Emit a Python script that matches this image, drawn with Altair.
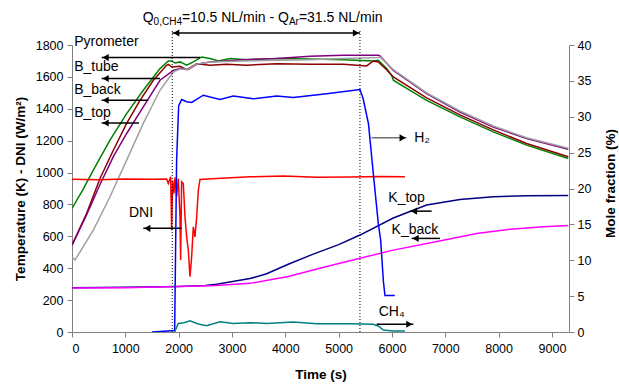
import altair as alt
import pandas as pd

FONT = "Liberation Sans"

# ---------------- data ----------------
pyro_t = [0, 200, 400, 712, 1025, 1337, 1650, 1806, 1875, 1931, 2025, 2150, 2275, 2431, 2588, 2744, 2963, 3275, 3838, 4463, 5088, 5650, 5744, 5900, 5994, 6025, 6338, 6650, 7275, 7900, 8525, 9306]
pyro_v = [775, 890, 1015, 1203, 1370, 1516, 1652, 1700, 1700, 1687, 1694, 1673, 1694, 1725, 1715, 1700, 1715, 1708, 1715, 1712, 1708, 1700, 1704, 1652, 1610, 1579, 1516, 1453, 1349, 1255, 1172, 1088]

btube_t = [0, 275, 525, 775, 1025, 1275, 1525, 1775, 1806, 1875, 2025, 2150, 2338, 2588, 2900, 3275, 3838, 4463, 5088, 5525, 5650, 5744, 5900, 6025, 6650, 7275, 7900, 8525, 9306]
btube_v = [545, 744, 963, 1140, 1308, 1453, 1579, 1673, 1679, 1662, 1666, 1646, 1683, 1673, 1679, 1673, 1683, 1679, 1679, 1669, 1700, 1694, 1645, 1600, 1468, 1362, 1268, 1182, 1099]

bback_t = [0, 275, 525, 775, 1025, 1337, 1650, 1900, 2025, 2181, 2338, 2588, 3213, 3838, 4463, 5088, 5744, 5775, 6025, 6650, 7275, 7900, 8525, 9306]
bback_v = [545, 735, 925, 1100, 1245, 1412, 1579, 1641, 1652, 1646, 1679, 1694, 1708, 1715, 1729, 1735, 1735, 1731, 1641, 1495, 1380, 1286, 1213, 1146]

btop_t = [0, 56, 400, 712, 1025, 1337, 1650, 1900, 2025, 2181, 2338, 2588, 3213, 3838, 4463, 5088, 5744, 5775, 6025, 6650, 7275, 7900, 8525, 9306]
btop_v = [472, 451, 639, 848, 1078, 1308, 1516, 1631, 1650, 1648, 1680, 1694, 1700, 1704, 1708, 1715, 1722, 1725, 1645, 1500, 1386, 1292, 1218, 1152]

dni_t = [0, 500, 1000, 1500, 1775, 1806, 1850, 1869, 1887, 1912, 1931, 1962, 1993, 2025, 2037, 2056, 2087, 2119, 2150, 2181, 2213, 2244, 2275, 2306, 2338, 2369, 2400, 2713, 3338, 3963, 4600, 5200, 5800, 6244]
dni_v = [958, 955, 960, 958, 960, 931, 973, 639, 952, 869, 969, 848, 963, 722, 451, 942, 931, 722, 597, 514, 347, 472, 660, 597, 722, 890, 957, 963, 973, 979, 970, 972, 975, 973]

ktop_t = [0, 1000, 2000, 2500, 2713, 3338, 3650, 4056, 4500, 5000, 5400, 6025, 6650, 7275, 7900, 8525, 9306]
ktop_v = [278, 280, 286, 292, 300, 335, 365, 425, 485, 548, 608, 715, 796, 831, 848, 854, 856]

kback_t = [0, 1000, 2000, 2700, 3338, 4056, 4700, 5400, 6000, 6963, 7588, 8213, 8838, 9306]
kback_v = [276, 278, 285, 292, 305, 348, 405, 462, 512, 576, 618, 645, 660, 668]

h2_t = [1500, 1925, 1962, 2000, 2056, 2150, 2244, 2463, 2775, 3025, 3400, 3838, 4150, 4775, 5400, 5460, 5560, 5650, 5744, 5788, 5840, 5869, 6053]
h2_m = [0, 0.2, 24, 31.5, 32.4, 32.1, 32.0, 33.0, 32.4, 32.9, 32.5, 32.9, 32.7, 33.2, 33.8, 32.5, 29.0, 22.1, 15.1, 12.8, 7.0, 5.1, 5.1]

ch4_t = [1925, 1993, 2100, 2213, 2369, 2525, 2775, 3025, 3338, 3650, 4150, 4588, 5213, 5650, 5750, 5838, 6025, 6244]
ch4_m = [0, 1.2, 1.3, 1.57, 1.11, 0.88, 1.44, 1.2, 1.3, 1.2, 1.39, 1.16, 1.16, 1.07, 0.8, 0.28, 0.14, 0.14]

left_names = ["Pyrometer", "B_tube", "B_back", "B_top", "DNI", "K_top", "K_back"]
left_colors = ["#008000", "#8B0000", "#800080", "#A0A0A0", "#FF0000", "#000080", "#FF00FF"]
right_names = ["H2", "CH4"]
right_colors = ["#0000FF", "#008080"]

# annotation labels (left axis units)
lab_text = ["Pyrometer", "B_tube", "B_back", "B_top"]
lab_t = [40, 40, 40, 40]
lab_v = [1816, 1662, 1520, 1375]
lab2_text = ["DNI", "K_top", "K_back"]
lab2_t = [1294, 6275, 6431]
lab2_v = [747, 841, 639]
# left-pointing arrows: tip, tail, level
arrL_tip = [556, 556, 556, 556, 1337, 6338, 6369]
arrL_tail = [2400, 1650, 1431, 1256, 2056, 6744, 6900]
arrL_v = [1721, 1590, 1453, 1311, 650, 758, 587]

# right axis annotations
arrR_tail = [5619, 5713]
arrR_tip = [6275, 6400]
arrR_m = [27.06, 1.07]
arrR_col = ["#707070", "#000000"]
rlab_text = ["H₂", "CH₄"]
rlab_t = [6419, 5994]
rlab_m = [27.06, 2.74]
rlab_align = ["left", "center"]

# period markers
period_t = [1880, 5400]
period_top = 1900
span_v = 1875
title_t = 1326
title_v = 1944

# ---------------- frames ----------------
def mk(names, ts, vs):
    return pd.concat([pd.DataFrame({"t": t, "v": v, "s": n}) for n, t, v in zip(names, ts, vs)], ignore_index=True)

left_df = mk(left_names, [pyro_t, btube_t, bback_t, btop_t, dni_t, ktop_t, kback_t],
             [pyro_v, btube_v, bback_v, btop_v, dni_v, ktop_v, kback_v])
right_df = mk(right_names, [h2_t, ch4_t], [h2_m, ch4_m])

lab_df = pd.DataFrame({"t": lab_t, "v": lab_v, "txt": lab_text})
lab2_df = pd.DataFrame({"t": lab2_t, "v": lab2_v, "txt": lab2_text})
arrL_df = pd.DataFrame({"tip": arrL_tip, "tail": arrL_tail, "v": arrL_v})
arrR_df = pd.DataFrame({"tip": arrR_tip, "tail": arrR_tail, "v": arrR_m, "c": arrR_col})
rlab_df = pd.DataFrame({"t": rlab_t, "v": rlab_m, "txt": rlab_text, "a": rlab_align})
period_df = pd.DataFrame({"t": period_t, "y0": [0, 0], "y1": [period_top, period_top]})
span_df = pd.DataFrame({"t0": [period_t[0]], "t1": [period_t[1]], "v": [span_v]})
title_df = pd.DataFrame({"t": [title_t], "v": [title_v]})

# ---------------- encodings ----------------
common_axis = dict(grid=False, tickSize=5, format="d",
                   domainColor="#808080", tickColor="#808080", labelColor="black",
                   labelFont=FONT, labelFontSize=12.5, titleFont=FONT, titleFontSize=13.5,
                   titleFontWeight="bold", titleColor="black")

xscale = alt.Scale(domain=[0, 9320], nice=False, zero=False)
xaxis = alt.Axis(values=list(range(0, 9001, 1000)), labelPadding=5, titlePadding=13, **common_axis)

def X(field):
    return alt.X(f"{field}:Q", scale=xscale, axis=xaxis, title="Time (s)")

def X2(field):
    return alt.X2(f"{field}:Q")

lscale = alt.Scale(domain=[0, 1800], nice=False, zero=False)
laxis = alt.Axis(values=list(range(0, 1801, 200)), labelPadding=4, titlePadding=8, **common_axis)
LT = "Temperature (K) - DNI (W/m²)"

def YL(field):
    return alt.Y(f"{field}:Q", scale=lscale, axis=laxis, title=LT)

rscale = alt.Scale(domain=[0, 40], nice=False, zero=False)
raxis = alt.Axis(orient="right", values=list(range(0, 41, 5)), labelPadding=3,
                 titleAngle=270, titleX=41, titleY=138, titleAlign="center", titleBaseline="middle",
                 **common_axis)
RT = "Mole fraction (%)"

def YR(field):
    return alt.Y(f"{field}:Q", scale=rscale, axis=raxis, title=RT)

# ---------------- left group ----------------
left_lines = alt.Chart(left_df).mark_line(strokeWidth=1.5, clip=True).encode(
    x=X("t"), y=YL("v"),
    color=alt.Color("s:N", scale=alt.Scale(domain=left_names, range=left_colors), legend=None),
    detail="s:N", order=alt.Order("t:Q"))

period_rules = alt.Chart(period_df).mark_rule(color="black", strokeDash=[1, 2], strokeWidth=1).encode(
    x=X("t"), y=YL("y0"), y2=alt.Y2("y1:Q"))

span_rule = alt.Chart(span_df).mark_rule(color="black", strokeWidth=1.5).encode(
    x=X("t0"), x2=X2("t1"), y=YL("v"))
span_head_l = alt.Chart(span_df).mark_point(shape="triangle-left", filled=True, size=50, color="black",
                                             opacity=1, xOffset=4).encode(x=X("t0"), y=YL("v"))
span_head_r = alt.Chart(span_df).mark_point(shape="triangle-right", filled=True, size=50, color="black",
                                             opacity=1, xOffset=-4).encode(x=X("t1"), y=YL("v"))

pieces = [("Q", 14, 0, 0), ("0,CH4", 10, 10.9, 3), ("=10.5 NL/min - Q", 14, 39.2, 0),
          ("Ar", 10, 146.2, 3), ("=31.5 NL/min", 14, 156.2, 0)]
title_layers = [
    alt.Chart(title_df).mark_text(text=txt, font=FONT, fontSize=fs, align="left", baseline="alphabetic",
                                  dx=dx, dy=dy, color="black").encode(x=X("t"), y=YL("v"))
    for txt, fs, dx, dy in pieces
]

arrL_rule = alt.Chart(arrL_df).mark_rule(color="black", strokeWidth=1.5).encode(
    x=X("tip"), x2=X2("tail"), y=YL("v"))
arrL_head = alt.Chart(arrL_df).mark_point(shape="triangle-left", filled=True, size=50, color="black",
                                          opacity=1, xOffset=4).encode(x=X("tip"), y=YL("v"))

lab_text_l = alt.Chart(lab_df).mark_text(font=FONT, fontSize=14, align="left", baseline="middle",
                                         color="black").encode(x=X("t"), y=YL("v"), text="txt:N")
lab_text_c = alt.Chart(lab2_df).mark_text(font=FONT, fontSize=14, align="center", baseline="middle",
                                          color="black").encode(x=X("t"), y=YL("v"), text="txt:N")

left_group = alt.layer(left_lines, period_rules, span_rule, span_head_l, span_head_r,
                       *title_layers, arrL_rule, arrL_head, lab_text_l, lab_text_c)

# ---------------- right group ----------------
right_lines = alt.Chart(right_df).mark_line(strokeWidth=1.5, clip=True).encode(
    x=X("t"), y=YR("v"),
    color=alt.Color("s:N", scale=alt.Scale(domain=right_names, range=right_colors), legend=None),
    detail="s:N", order=alt.Order("t:Q"))

arrR_rule = alt.Chart(arrR_df).mark_rule(strokeWidth=1.5).encode(
    x=X("tail"), x2=X2("tip"), y=YR("v"), color=alt.Color("c:N", scale=None))
arrR_head = alt.Chart(arrR_df).mark_point(shape="triangle-right", filled=True, size=50, color="black",
                                          opacity=1, xOffset=-4).encode(x=X("tip"), y=YR("v"))
rlab_l = alt.Chart(rlab_df[rlab_df.a == "left"]).mark_text(font=FONT, fontSize=14, align="left",
                                                          baseline="middle", color="black").encode(
    x=X("t"), y=YR("v"), text="txt:N")
rlab_c = alt.Chart(rlab_df[rlab_df.a == "center"]).mark_text(font=FONT, fontSize=14, align="center",
                                                            baseline="middle", color="black").encode(
    x=X("t"), y=YR("v"), text="txt:N")

right_group = alt.layer(right_lines, arrR_rule, arrR_head, rlab_l, rlab_c)

chart = alt.layer(left_group, right_group).resolve_scale(y="independent", color="independent").properties(
    width=497, height=287,
    autosize=alt.AutoSizeParams(type="none"),
    padding={"left": 72, "top": 45, "right": 50, "bottom": 53},
    background="white",
).configure_view(stroke=None)

chart.save("out.html", embed_options={"renderer": "svg", "actions": False})
